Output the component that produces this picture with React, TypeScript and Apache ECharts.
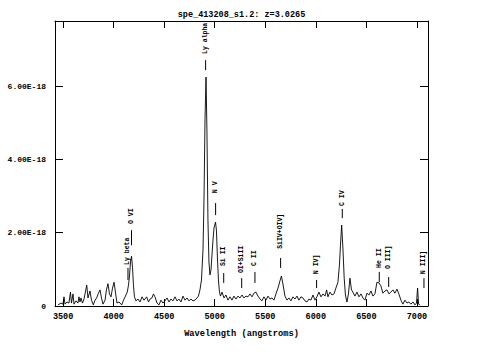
import React, { useEffect, useRef } from "react";
import * as echarts from "echarts";

const TITLE = "spe_413208_s1.2: z=3.0265";
const X_NAME = "Wavelength (angstroms)";
const X_TICKS = [3500, 4000, 4500, 5000, 5500, 6000, 6500, 7000];
const Y_TICKS = [0, 2, 4, 6];

const wavelength = [
  3450, 3479, 3499, 3509, 3519, 3539, 3558, 3573, 3583, 3598, 3608, 3628, 3647, 3657, 3667, 3677, 3692, 3707,
  3734, 3746, 3766, 3781, 3799, 3816, 3832, 3850, 3865, 3880, 3895, 3915, 3929, 3944, 3959, 3974, 3989, 4004,
  4018, 4033, 4053, 4080, 4098, 4117, 4135, 4147, 4157, 4167, 4177, 4187, 4196, 4206, 4221, 4241, 4261, 4281,
  4300, 4327, 4345, 4360, 4379, 4394, 4409, 4429, 4449, 4468, 4488, 4508, 4528, 4548, 4567, 4587, 4607, 4627,
  4646, 4666, 4686, 4706, 4726, 4745, 4765, 4785, 4805, 4825, 4839, 4854, 4869, 4884, 4894, 4904, 4914, 4923,
  4933, 4943, 4953, 4963, 4973, 4983, 4993, 5008, 5017, 5027, 5037, 5047, 5057, 5072, 5092, 5111, 5131, 5151,
  5171, 5190, 5210, 5230, 5250, 5270, 5289, 5309, 5329, 5349, 5369, 5388, 5408, 5428, 5448, 5467, 5487, 5507,
  5527, 5547, 5566, 5586, 5606, 5626, 5645, 5660, 5675, 5695, 5715, 5734, 5754, 5774, 5794, 5814, 5833, 5853,
  5873, 5893, 5913, 5932, 5952, 5972, 5992, 6011, 6031, 6051, 6071, 6091, 6107, 6120, 6140, 6160, 6180, 6199,
  6219, 6234, 6244, 6256, 6269, 6281, 6293, 6308, 6323, 6338, 6353, 6367, 6387, 6407, 6427, 6447, 6466, 6486,
  6506, 6526, 6546, 6565, 6585, 6605, 6625, 6644, 6664, 6684, 6704, 6724, 6743, 6763, 6783, 6803, 6822, 6842,
  6862, 6882, 6902, 6921, 6941, 6961, 6981, 6996, 7007, 7017, 7030,
];

// flux in units of 1E-18
const flux = [
  0.03, 0.08, 0.05, 0.25, 0.05, 0.11, 0.08, 0.38, 0.08, 0.33, 0.05, 0.14, 0.08, 0.25, 0.11, 0.22, 0.08, 0.19,
  0.57, 0.22, 0.41, 0.16, 0.03, 0.16, 0.22, 0.35, 0.44, 0.22, 0.05, 0.16, 0.44, 0.61, 0.33, 0.25, 0.49, 0.65,
  0.38, 0.08, 0.11, 0.03, 0.16, 0.27, 0.38, 0.57, 0.82, 1.2, 1.36, 1.04, 0.57, 0.25, 0.14, 0.19, 0.11, 0.25,
  0.16, 0.25, 0.11, 0.19, 0.22, 0.33, 0.25, 0.08, 0.03, 0.16, 0.08, 0.14, 0.22, 0.11, 0.19, 0.14, 0.25, 0.14,
  0.19, 0.11, 0.27, 0.16, 0.22, 0.14, 0.19, 0.14, 0.16, 0.22, 0.27, 0.44, 0.71, 1.53, 2.89, 5.08, 6.25, 4.8,
  2.35, 1.2, 0.85, 0.98, 1.39, 1.8, 2.13, 2.29, 2.07, 1.31, 0.71, 0.38, 0.27, 0.38, 0.22, 0.3, 0.16, 0.25,
  0.16, 0.27, 0.19, 0.27, 0.22, 0.3, 0.22, 0.27, 0.25, 0.33, 0.25, 0.35, 0.38, 0.27, 0.19, 0.14, 0.25, 0.16,
  0.27, 0.19, 0.22, 0.16, 0.33, 0.49, 0.68, 0.82, 0.6, 0.27, 0.16, 0.22, 0.14, 0.25, 0.19, 0.27, 0.16, 0.25,
  0.22, 0.14, 0.11, 0.19, 0.16, 0.3, 0.16, 0.25, 0.38, 0.25, 0.33, 0.27, 0.44, 0.25, 0.38, 0.3, 0.33, 0.49,
  0.65, 1.12, 1.66, 2.21, 1.53, 0.76, 0.3, 0.11, 0.33, 0.76, 0.44, 0.38, 0.27, 0.38, 0.25, 0.33, 0.22, 0.16,
  0.35, 0.3, 0.41, 0.27, 0.33, 0.65, 0.63, 0.55, 0.35, 0.41, 0.44, 0.33, 0.38, 0.44, 0.35, 0.46, 0.33, 0.16,
  0.05, 0.16, 0.08, 0.11, 0.05, 0.11, 0.03, 0.08, 0.49, 0.05, 0.03,
];

// emission line markers
const lineNames = ["Ly beta", "O VI", "Ly alpha", "N V", "Si II", "OI+SiII", "C II", "SiIV+OIV]", "N IV]", "C IV", "He II", "O III]", "N III]"];
const lineWave = [4142, 4177, 4910, 5009, 5089, 5267, 5398, 5652, 6008, 6262, 6628, 6721, 7070];
const tickLow = [0.71, 1.66, 6.44, 2.48, 0.63, 0.49, 0.63, 1.04, 0.49, 2.4, 0.65, 0.52, 0.49];
const tickHigh = [1.04, 2.07, 6.71, 2.81, 0.9, 0.76, 0.93, 1.31, 0.71, 2.65, 0.93, 0.79, 0.76];
const labelBase = [1.12, 2.24, 6.88, 3.08, 1.09, 0.9, 1.09, 1.56, 0.87, 2.73, 1.04, 1.01, 0.87];

const FONT = '"Liberation Mono", "DejaVu Sans Mono", monospace';

export default function App() {
  const ref = useRef<HTMLDivElement>(null);
  useEffect(() => {
    if (!ref.current) return;
    const chart = echarts.init(ref.current, null, { renderer: "svg" });
    const spectrum = wavelength.map((w, i) => [w, flux[i]]);
    const markers = lineWave.map((w, i) => [w, tickLow[i], tickHigh[i], labelBase[i]]);
    const axisBase = {
      type: "value" as const,
      axisLine: { show: true, onZero: false, lineStyle: { color: "#000", width: 1 } },
      splitLine: { show: false },
    };
    chart.setOption({
      animation: false,
      backgroundColor: "#fff",
      title: {
        text: TITLE,
        left: "center",
        top: 5,
        textStyle: { fontFamily: FONT, fontWeight: "bold", fontSize: 8.5, color: "#000" },
      },
      grid: { left: 55, right: 55, top: 21, bottom: 52 },
      xAxis: [
        {
          ...axisBase,
          position: "bottom",
          min: 3420,
          max: 7110,
          axisTick: { show: true, inside: true, length: 7, customValues: X_TICKS, lineStyle: { color: "#000" } },
          axisLabel: {
            customValues: X_TICKS,
            color: "#000",
            fontFamily: FONT,
            fontWeight: "bold",
            fontSize: 8.5,
            margin: 6,
            formatter: (v: number) => String(v),
          },
          name: X_NAME,
          nameLocation: "middle",
          nameGap: 23,
          nameTextStyle: { fontFamily: FONT, fontWeight: "bold", fontSize: 8.7, color: "#000" },
        },
        {
          ...axisBase,
          position: "top",
          min: 3420,
          max: 7110,
          axisTick: { show: true, inside: true, length: 7, customValues: X_TICKS, lineStyle: { color: "#000" } },
          axisLabel: { show: false },
        },
      ],
      yAxis: [
        {
          ...axisBase,
          position: "left",
          min: 0,
          max: 7.78,
          axisTick: { show: true, inside: true, length: 8, customValues: Y_TICKS, lineStyle: { color: "#000" } },
          axisLabel: {
            customValues: Y_TICKS,
            color: "#000",
            fontFamily: FONT,
            fontWeight: "bold",
            fontSize: 8,
            margin: 9,
            formatter: (v: number) => (v === 0 ? "0" : v.toFixed(2) + "E-18"),
          },
        },
        {
          ...axisBase,
          position: "right",
          min: 0,
          max: 7.78,
          axisTick: { show: true, inside: true, length: 8, customValues: Y_TICKS, lineStyle: { color: "#000" } },
          axisLabel: { show: false },
        },
      ],
      series: [
        {
          type: "line",
          data: spectrum,
          xAxisIndex: 0,
          yAxisIndex: 0,
          showSymbol: false,
          symbol: "none",
          lineStyle: { color: "#000", width: 0.9 },
        },
        {
          type: "custom",
          xAxisIndex: 0,
          yAxisIndex: 0,
          data: markers,
          encode: { x: 0, y: 1 },
          clip: false,
          renderItem: (params: any, api: any) => {
            const w = api.value(0);
            const a = api.coord([w, api.value(1)]);
            const b = api.coord([w, api.value(2)]);
            const c = api.coord([w, api.value(3)]);
            return {
              type: "group",
              children: [
                {
                  type: "line",
                  shape: { x1: a[0], y1: a[1], x2: b[0], y2: b[1] },
                  style: { stroke: "#000", lineWidth: 1 },
                },
                {
                  type: "text",
                  x: c[0],
                  y: c[1],
                  rotation: Math.PI / 2,
                  style: {
                    text: lineNames[params.dataIndex],
                    font: `bold 6.5px ${FONT}`,
                    fill: "#000",
                    align: "left",
                    verticalAlign: "middle",
                  },
                },
              ],
            };
          },
        },
      ],
    });
    return () => chart.dispose();
  }, []);
  return (
    <div
      ref={ref}
      style={{ position: "fixed", left: 0, top: 0, width: 483, height: 358 }}
    />
  );
}
